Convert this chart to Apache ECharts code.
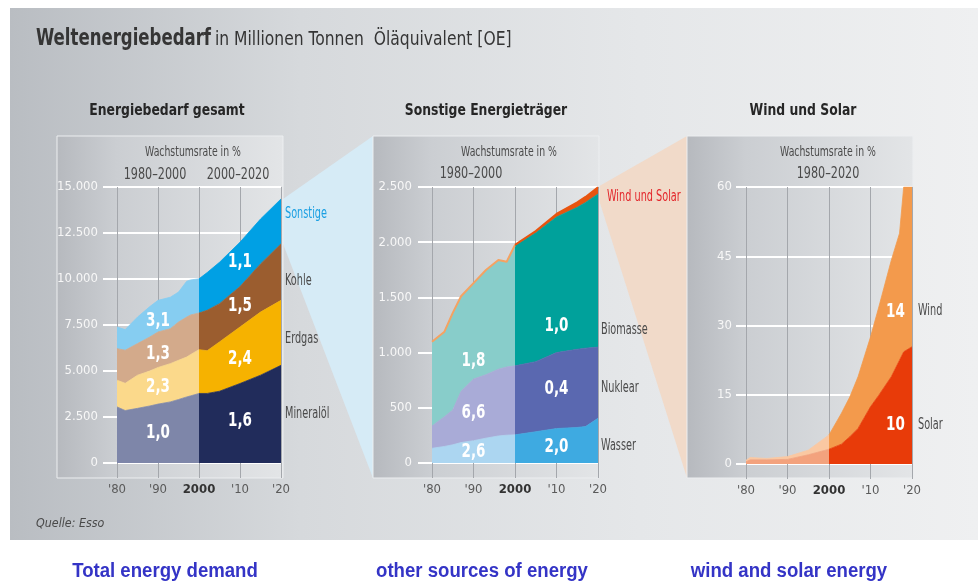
<!DOCTYPE html>
<html>
<head>
<meta charset="utf-8">
<script src="https://cdn.jsdelivr.net/npm/echarts@6/dist/echarts.min.js"></script>
<style>
  html, body { margin: 0; padding: 0; background: #ffffff; }
  #main { width: 978px; height: 583px; }
</style>
</head>
<body>
<div id="main"></div>
<script>
// ---------- data (million tonnes oil equivalent) ----------
// Panel 1: total world energy demand, stacked by source
const totalYears = [1980, 1982, 1985, 1988, 1990, 1993, 1995, 1997, 1998, 2000, 2002, 2005, 2010, 2015, 2020];
const mineraloel = [3050, 2850, 2970, 3100, 3200, 3320, 3450, 3590, 3650, 3780, 3780, 3900, 4320, 4770, 5310];
const erdgas     = [1450, 1480, 1800, 1900, 1990, 2080, 2130, 2170, 2250, 2380, 2320, 2680, 3070, 3430, 3530];
const kohle      = [1715, 1800, 1720, 1850, 1930, 1900, 2080, 2170, 2150, 1990, 2200, 2080, 2200, 2620, 3070];
const sonstige   = [1175, 1120, 1440, 1650, 1720, 1710, 1630, 1950, 1900, 1860, 2050, 2250, 2410, 2440, 2440];

// Panel 2: other energy sources
const otherYears   = [1980, 1983, 1985, 1987, 1990, 1993, 1996, 1998, 2000, 2005, 2010, 2015, 2017, 2020];
const wasser       = [133, 150, 165, 185, 202, 225, 245, 252, 255, 283, 312, 322, 330, 405];
const nuklear      = [202, 270, 315, 465, 558, 575, 605, 618, 625, 635, 688, 708, 710, 645];
const biomasse     = [763, 768, 879, 859, 868, 946, 986, 948, 1089, 1168, 1228, 1286, 1320, 1387];
const windUndSolar = [0.8, 1.2, 1.2, 1.3, 1.6, 2.3, 3.2, 4.5, 6.3, 14.5, 27.5, 44.1, 50, 60];

// Panel 3: wind and solar
const wsYears = [1980, 1981, 1985, 1990, 1995, 2000, 2003, 2005, 2007, 2010, 2012, 2015, 2017, 2018, 2020];
const solar   = [0.5, 0.9, 0.9, 1.0, 2.0, 3.2, 4.3, 5.9, 7.7, 12.4, 14.9, 18.9, 22.5, 24.3, 25.4];
const wind    = [0.3, 0.5, 0.3, 0.6, 1.0, 3.1, 6.7, 8.6, 11.2, 15.1, 19.1, 25.2, 27.5, 35.7, 34.6];

// growth rates in % per year (bottom layer first)
const rateTotalPre  = ['1,0', '2,3', '1,3', '3,1'];
const rateTotalPost = ['1,6', '2,4', '1,5', '1,1'];
const rateOtherPre  = ['2,6', '6,6', '1,8'];
const rateOtherPost = ['2,0', '0,4', '1,0'];
const rateWindSolar = ['10', '14'];

// axis ticks
const yearTicks = { min: 1980, max: 2020, step: 10 };
const totalAxis = { max: 15000, step: 2500 };
const otherAxis = { max: 2500, step: 500 };
const wsAxis    = { max: 60, step: 15 };

// ---------- styling ----------
const FONT = "'DejaVu Sans Condensed', 'Liberation Sans Narrow', sans-serif";
const GRID_LINE = '#a4a7ac';

function thousands(v) {
  return String(v).replace(/\B(?=(\d{3})+(?!\d))/g, '.');
}

function yearLabel(v) {
  if (v === 2000) return '{b|2000}';
  return "'" + String(v).slice(2);
}

// value first, year second, so the stack runs along the value axis
function part(years, vals, which) {
  return years.map((y, i) => [(which === 'pre' ? y <= 2000 : y >= 2000) ? vals[i] : null, y]);
}

function layer(grid, stack, years, vals, which, color, extra) {
  return Object.assign({
    type: 'line',
    xAxisIndex: grid,
    yAxisIndex: grid,
    stack: stack,
    encode: { x: 1, y: 0 },
    data: part(years, vals, which),
    symbol: 'none',
    showSymbol: false,
    silent: true,
    lineStyle: { width: 0.8, color: color },
    areaStyle: { color: color, opacity: 1 },
    emphasis: { disabled: true }
  }, extra || {});
}

function xAxis(grid) {
  return {
    type: 'value', gridIndex: grid,
    min: yearTicks.min, max: yearTicks.max, interval: yearTicks.step,
    axisLine: { show: false },
    axisTick: { show: true, length: 15, lineStyle: { color: GRID_LINE, width: 1 } },
    splitLine: { show: true, lineStyle: { color: GRID_LINE, width: 1 } },
    axisLabel: {
      margin: 20, color: '#5a5a5a', fontSize: 13, fontFamily: FONT,
      showMinLabel: true, showMaxLabel: true,
      formatter: yearLabel,
      rich: { b: { fontWeight: 'bold', color: '#333', fontSize: 13, fontFamily: FONT } }
    }
  };
}

function yAxis(grid, axis, margin, tickLen) {
  return {
    type: 'value', gridIndex: grid,
    min: 0, max: axis.max, interval: axis.step,
    axisLine: { show: false },
    axisTick: { show: true, length: tickLen, lineStyle: { color: '#ffffff', width: 2 } },
    splitLine: { show: true, lineStyle: { color: '#ffffff', width: 2 } },
    axisLabel: { margin: margin, color: '#f7f7f7', fontSize: 13, fontFamily: FONT, formatter: thousands }
  };
}

const series = [
  // panel 1, 1980-2000
  layer(0, 'tPre', totalYears, mineraloel, 'pre', '#7e86a9'),
  layer(0, 'tPre', totalYears, erdgas,     'pre', '#fbd98b'),
  layer(0, 'tPre', totalYears, kohle,      'pre', '#d3aa8b'),
  layer(0, 'tPre', totalYears, sonstige,   'pre', '#86cdf1'),
  // panel 1, 2000-2020
  layer(0, 'tPost', totalYears, mineraloel, 'post', '#212c5b'),
  layer(0, 'tPost', totalYears, erdgas,     'post', '#f6b200'),
  layer(0, 'tPost', totalYears, kohle,      'post', '#9b5d2f'),
  layer(0, 'tPost', totalYears, sonstige,   'post', '#00a0e4'),
  // panel 2, 1980-2000
  layer(1, 'oPre', otherYears, wasser,       'pre', '#acd6f1'),
  layer(1, 'oPre', otherYears, nuklear,      'pre', '#a9abd7'),
  layer(1, 'oPre', otherYears, biomasse,     'pre', '#88cdca'),
  layer(1, 'oPre', otherYears, windUndSolar, 'pre', '#f5a262', { lineStyle: { width: 2, color: '#f5a262' } }),
  // panel 2, 2000-2020
  layer(1, 'oPost', otherYears, wasser,       'post', '#3eaae1'),
  layer(1, 'oPost', otherYears, nuklear,      'post', '#5a68b0'),
  layer(1, 'oPost', otherYears, biomasse,     'post', '#00a19b'),
  layer(1, 'oPost', otherYears, windUndSolar, 'post', '#e8540f', { lineStyle: { width: 2, color: '#e8540f' } }),
  // panel 3
  layer(2, 'wPre', wsYears, solar, 'pre', '#f3a27d'),
  layer(2, 'wPre', wsYears, wind,  'pre', '#fac8a2'),
  layer(2, 'wPost', wsYears, solar, 'post', '#e83b09'),
  layer(2, 'wPost', wsYears, wind,  'post', '#f39a4c')
];

const chart = echarts.init(document.getElementById('main'), null, { renderer: 'canvas' });

chart.setOption({
  animation: false,
  backgroundColor: '#ffffff',
  grid: [
    { left: 117, top: 187, width: 164, height: 276 },
    { left: 432, top: 187, width: 166, height: 276 },
    { left: 746, top: 187, width: 166, height: 277 }
  ],
  xAxis: [xAxis(0), xAxis(1), xAxis(2)],
  yAxis: [
    yAxis(0, totalAxis, 19, 14),
    yAxis(1, otherAxis, 20, 14),
    yAxis(2, wsAxis, 14, 10)
  ],
  series: series
});

// ---------- decoration and annotations ----------
const px = (g, x, y) => chart.convertToPixel({ gridIndex: g }, [x, y]);
const last = a => a[a.length - 1];
const sumLast = arrs => arrs.reduce((s, a) => s + last(a), 0);

function text(x, y, str, opt) {
  const o = opt || {};
  return {
    type: 'text', x: x, y: y, z: 20, silent: true,
    scaleX: o.sx || 1,
    style: {
      text: str,
      fill: o.color || '#444',
      fontSize: o.size || 14,
      fontFamily: o.family || FONT,
      fontWeight: o.weight || 'normal',
      fontStyle: o.style || 'normal',
      align: o.align || 'left',
      verticalAlign: 'middle'
    }
  };
}

function boxRect(x, y, w, h, splitRatio) {
  return {
    type: 'rect', z: -2, silent: true,
    shape: { x: x, y: y, width: w, height: h },
    style: {
      fill: {
        type: 'linear', x: 0, y: 0, x2: 1, y2: 0,
        colorStops: [
          { offset: 0, color: '#b6b9be' },
          { offset: splitRatio, color: '#cbced2' },
          { offset: 1, color: '#e3e5e7' }
        ]
      },
      stroke: '#eceef0', lineWidth: 1
    }
  };
}

// band edges at the right end, used for the connecting wedges
const p1Top = px(0, 2020, sumLast([mineraloel, erdgas, kohle, sonstige]));
const p1Bot = px(0, 2020, sumLast([mineraloel, erdgas, kohle]));
const p2Top = px(1, 2020, sumLast([wasser, nuklear, biomasse, windUndSolar]));
const p2Bot = px(1, 2020, sumLast([wasser, nuklear, biomasse]));

const box1 = [57, 136, 226, 342];
const box2 = [373, 136, 226, 342];
const box3 = [687, 136, 226, 342];

const LABEL = { size: 15, color: '#4a4a4a', sx: 0.72 };
const HEAD = { size: 14, align: 'center', color: '#4a4a4a', sx: 0.74 };
const SPAN = { size: 15, align: 'center', color: '#4a4a4a', sx: 0.83 };
const TITLE = { size: 16, weight: 'bold', align: 'center', color: '#262626', sx: 0.86 };
const CAPTION = { size: 20, weight: 'bold', align: 'center', color: '#3434c6', sx: 0.93, family: "'Liberation Sans', Arial, sans-serif" };

const graphics = [
  // page background
  {
    type: 'rect', z: -5, silent: true,
    shape: { x: 10, y: 8, width: 968, height: 532 },
    style: {
      fill: {
        type: 'linear', x: 0, y: 0, x2: 1, y2: 0,
        colorStops: [
          { offset: 0, color: '#b9bdc2' },
          { offset: 0.3, color: '#d6d9dc' },
          { offset: 0.65, color: '#e5e7e9' },
          { offset: 1, color: '#eff0f1' }
        ]
      }
    }
  },
  // wedges linking a band to the next panel
  {
    type: 'polygon', z: -4, silent: true,
    shape: { points: [[p1Top[0] + 2, p1Top[1]], [box2[0], box2[1]], [box2[0], box2[1] + box2[3]], [p1Bot[0] + 2, p1Bot[1]]] },
    style: { fill: '#d6ebf6' }
  },
  {
    type: 'polygon', z: -4, silent: true,
    shape: { points: [[p2Top[0] + 1, p2Top[1] - 1], [box3[0], box3[1]], [box3[0], box3[1] + box3[3]], [p2Bot[0] + 1, p2Bot[1] + 6]] },
    style: { fill: '#f1dac9' }
  },
  boxRect(box1[0], box1[1], box1[2], box1[3], 60 / 226),
  boxRect(box2[0], box2[1], box2[2], box2[3], 59 / 226),
  boxRect(box3[0], box3[1], box3[2], box3[3], 59 / 226),

  // title
  text(36, 39, 'Weltenergiebedarf', { size: 23, weight: 'bold', color: '#353535', sx: 0.8 }),
  text(215, 40, 'in Millionen Tonnen  Öläquivalent [OE]', { size: 19, color: '#353535', sx: 0.91 }),

  // panel headings
  text(167, 111, 'Energiebedarf gesamt', TITLE),
  text(486, 111, 'Sonstige Energieträger', TITLE),
  text(803, 111, 'Wind und Solar', TITLE),

  // growth-rate headers
  text(193, 152, 'Wachstumsrate in %', HEAD),
  text(155, 175, '1980–2000', SPAN),
  text(238, 175, '2000–2020', SPAN),
  text(509, 152, 'Wachstumsrate in %', HEAD),
  text(471, 174, '1980–2000', SPAN),
  text(828, 152, 'Wachstumsrate in %', HEAD),
  text(828, 174, '1980–2020', SPAN),

  // series names
  text(285, 214, 'Sonstige', Object.assign({}, LABEL, { color: '#1a9fe2' })),
  text(285, 281, 'Kohle', LABEL),
  text(285, 339, 'Erdgas', LABEL),
  text(285, 414, 'Mineralöl', LABEL),
  text(607, 197, 'Wind und Solar', Object.assign({}, LABEL, { color: '#e3262b' })),
  text(601, 330, 'Biomasse', LABEL),
  text(601, 388, 'Nuklear', LABEL),
  text(601, 446, 'Wasser', LABEL),
  text(918, 311, 'Wind', LABEL),
  text(918, 425, 'Solar', LABEL),

  // source
  text(36, 524, 'Quelle: Esso', { size: 13, style: 'italic', color: '#4a4a4a', sx: 0.95 }),

  // captions below the figure
  text(165, 571, 'Total energy demand', CAPTION),
  text(482, 571, 'other sources of energy', CAPTION),
  text(789, 571, 'wind and solar energy', CAPTION)
];

// growth-rate figures inside the bands, anchored in data coordinates
function rateLabels(grid, year, anchors, labels) {
  labels.forEach((t, i) => {
    const p = px(grid, year, anchors[i]);
    graphics.push(text(p[0], p[1], t, { size: 20, weight: 'bold', align: 'center', color: '#ffffff', sx: 0.75 }));
  });
}
rateLabels(0, 1990, [1626, 4119, 5908, 7750], rateTotalPre);
rateLabels(0, 2010, [2280, 5640, 8560, 10950], rateTotalPost);
rateLabels(1, 1990, [100, 453, 924], rateOtherPre);
rateLabels(1, 2010, [145, 670, 1241], rateOtherPost);
rateLabels(2, 2016, [8.4, 33], rateWindSolar);

chart.setOption({ graphic: graphics });
</script>
</body>
</html>
